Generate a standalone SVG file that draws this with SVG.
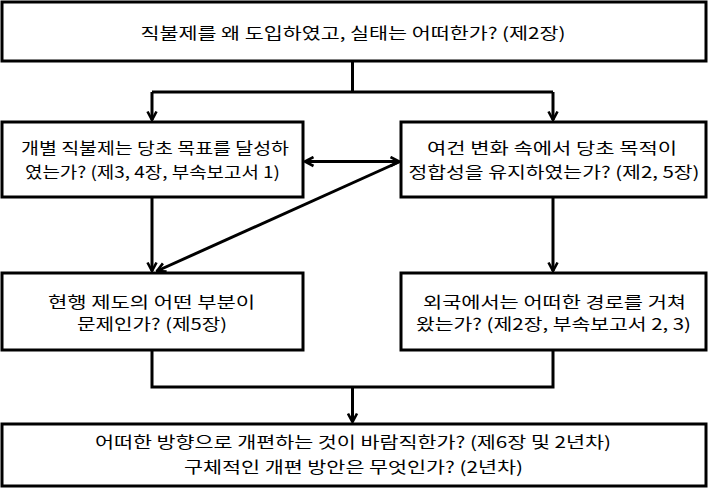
<svg xmlns="http://www.w3.org/2000/svg" width="709" height="489" viewBox="0 0 709 489">
<style>
.box{fill:#fff;stroke:#000;stroke-width:3}
.ln{fill:none;stroke:#000;stroke-width:3}
text{font-family:"Noto Sans CJK KR","Noto Sans",sans-serif;font-size:16px;fill:#000;text-anchor:middle}
</style>
<defs>
<marker id="ah" viewBox="0 0 12 12" refX="10.5" refY="6" markerWidth="12" markerHeight="12" markerUnits="userSpaceOnUse" orient="auto-start-reverse">
<path d="M2,1.5 L10.5,6 L2,10.5" fill="none" stroke="#000" stroke-width="2.6"/>
</marker>
</defs>
<rect width="709" height="489" fill="#fff"/>
<g id="connectors">
<path class="ln" d="M352.5,61 V92 M152,92 H553"/>
<path class="ln" d="M152,92 V120" marker-end="url(#ah)"/>
<path class="ln" d="M553,92 V120" marker-end="url(#ah)"/>
<path class="ln" d="M305,161.5 H399" marker-start="url(#ah)" marker-end="url(#ah)"/>
<path class="ln" d="M400,161.5 L157,271" marker-end="url(#ah)"/>
<path class="ln" d="M152,197 V271" marker-end="url(#ah)"/>
<path class="ln" d="M553,197 V271" marker-end="url(#ah)"/>
<path class="ln" d="M152,350 V387 H553 V350 M352.5,387 V400"/>
<path class="ln" d="M352.5,398 V422" marker-end="url(#ah)"/>
</g>
<g id="n-top">
<rect class="box" x="2" y="2" width="704" height="59"/>
<text x="353" y="39" textLength="425" lengthAdjust="spacingAndGlyphs">직불제를 왜 도입하였고, 실태는 어떠한가? (제2장)</text>
</g>
<g id="n-goal">
<rect class="box" x="2" y="122" width="301" height="75"/>
<text x="155" y="154" textLength="268" lengthAdjust="spacingAndGlyphs">개별 직불제는 당초 목표를 달성하</text>
<text x="152.5" y="178" textLength="255" lengthAdjust="spacingAndGlyphs">였는가? (제3, 4장, 부속보고서 1)</text>
</g>
<g id="n-purpose">
<rect class="box" x="401" y="122" width="305" height="75"/>
<text x="552" y="154" textLength="250" lengthAdjust="spacingAndGlyphs">여건 변화 속에서 당초 목적이</text>
<text x="554" y="178" textLength="291" lengthAdjust="spacingAndGlyphs">정합성을 유지하였는가? (제2, 5장)</text>
</g>
<g id="n-problem">
<rect class="box" x="2" y="273" width="301" height="77"/>
<text x="151.5" y="308" textLength="207" lengthAdjust="spacingAndGlyphs">현행 제도의 어떤 부분이</text>
<text x="152" y="330" textLength="150" lengthAdjust="spacingAndGlyphs">문제인가? (제5장)</text>
</g>
<g id="n-foreign">
<rect class="box" x="401" y="273" width="305" height="77"/>
<text x="554.5" y="308" textLength="263" lengthAdjust="spacingAndGlyphs">외국에서는 어떠한 경로를 거쳐</text>
<text x="553.5" y="330" textLength="275" lengthAdjust="spacingAndGlyphs">왔는가? (제2장, 부속보고서 2, 3)</text>
</g>
<g id="n-reform">
<rect class="box" x="2" y="424" width="704" height="62"/>
<text x="353" y="448" textLength="516" lengthAdjust="spacingAndGlyphs">어떠한 방향으로 개편하는 것이 바람직한가? (제6장 및 2년차)</text>
<text x="353.5" y="473" textLength="339" lengthAdjust="spacingAndGlyphs">구체적인 개편 방안은 무엇인가? (2년차)</text>
</g>
</svg>
